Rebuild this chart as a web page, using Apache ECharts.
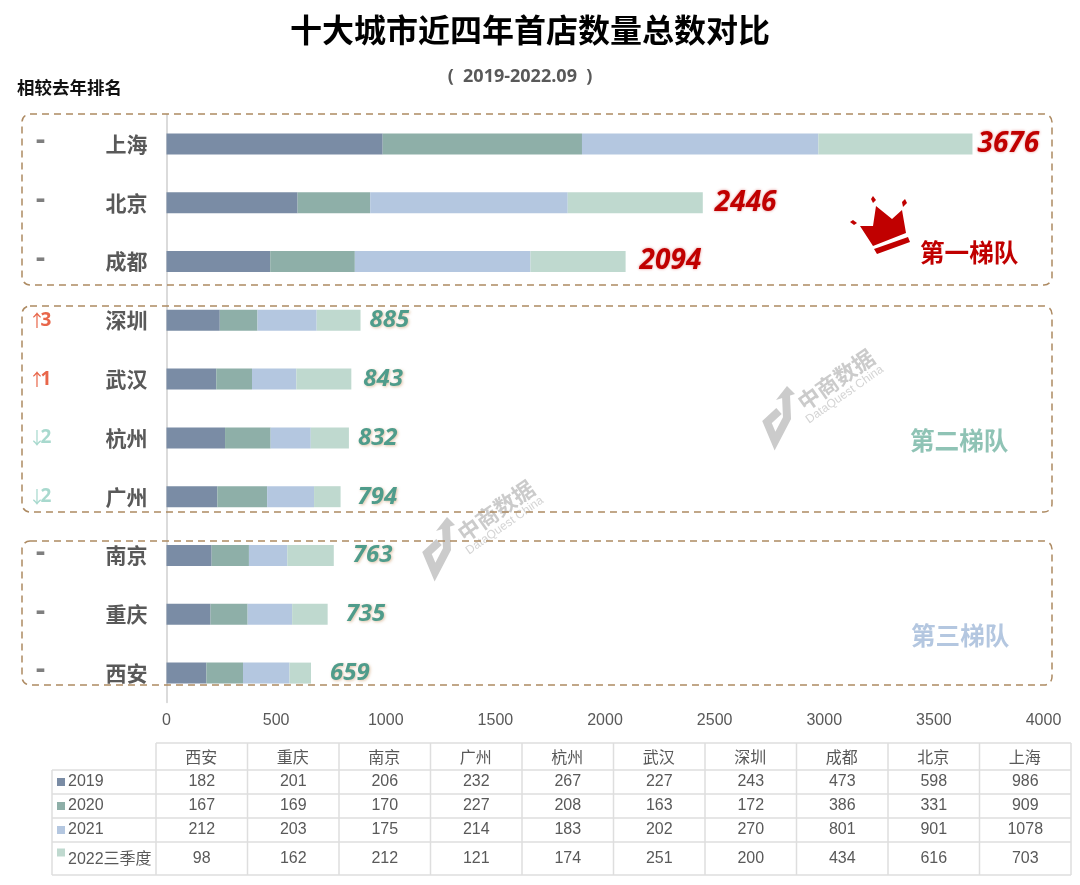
<!DOCTYPE html>
<html>
<head>
<meta charset="utf-8">
<title>十大城市近四年首店数量总数对比</title>
<style>
  html, body { margin: 0; padding: 0; background: #fff; }
  #chart { width: 1080px; height: 885px; }
</style>
<script src="https://cdn.jsdelivr.net/npm/echarts@6/dist/echarts.min.js"></script>
</head>
<body>
<div id="chart"></div>
<script>
// bottom-up order, same as the table under the chart
var cities = ['西安', '重庆', '南京', '广州', '杭州', '武汉', '深圳', '成都', '北京', '上海'];
var seriesNames = ['2019', '2020', '2021', '2022三季度'];
var v2019 = [182, 201, 206, 232, 267, 227, 243, 473, 598, 986];
var v2020 = [167, 169, 170, 227, 208, 163, 172, 386, 331, 909];
var v2021 = [212, 203, 175, 214, 183, 202, 270, 801, 901, 1078];
var v2022 = [98, 162, 212, 121, 174, 251, 200, 434, 616, 703];
var totals = [659, 735, 763, 794, 832, 843, 885, 2094, 2446, 3676];
var rankChange = ['-', '-', '-', '↓2', '↓2', '↑1', '↑3', '-', '-', '-'];
var xTicks = [0, 500, 1000, 1500, 2000, 2500, 3000, 3500, 4000];

var colors = ['#7A8CA5', '#8EAFA8', '#B4C7E0', '#BFD9CF'];
var labelGaps = [19, 18, 19, 17, 9, 12, 9, 14, 12, 5]; // total labels sit unevenly in the original
var rows = [v2019, v2020, v2021, v2022];
var FONT = '"Liberation Sans", "Noto Sans CJK SC", sans-serif';
var CJK = '"Noto Sans CJK SC", sans-serif';
var NUM = '"Open Sans", "Liberation Sans", sans-serif';

function rankLabel(val) {
  var r = rankChange[cities.indexOf(val)];
  var rank;
  if (r === '-') rank = '{same|-}';
  else {
    var key = r.charAt(0) === '↑' ? 'up' : 'down';
    rank = '{' + key + 'Arrow|' + r.charAt(0) + '}{' + key + '|' + r.slice(1) + '}';
  }
  return rank + '{city|' + val + '}';
}

function dashedBox(y, h) {
  return {
    type: 'rect', z: 5,
    shape: { x: 22, y: y, width: 1030, height: h, r: 8 },
    style: { fill: 'none', stroke: '#AD8A62', lineWidth: 1.5, lineDash: [7, 5] }
  };
}

function text(str, x, y, size, color, opt) {
  opt = opt || {};
  return {
    type: 'text', z: 6, x: x, y: y,
    style: {
      text: str, fontSize: size, fill: color,
      fontFamily: opt.family || CJK,
      fontWeight: opt.weight || 'normal',
      align: opt.align || 'left',
      verticalAlign: 'middle'
    }
  };
}

function poly(points, fill) {
  return { type: 'polygon', z: 6, shape: { points: points }, style: { fill: fill } };
}

// the logo stamp, placed by its lower left corner
function watermark(x, y) {
  var c = '#CBCBCB';
  var tilt = Math.PI * 35 / 180;
  return {
    type: 'group', x: x, y: y, z: 1,
    children: [
      { type: 'polyline', shape: { points: [[24, -52], [25, -29], [13, -6], [5, -25], [17, -36]] },
        style: { fill: 'none', stroke: c, lineWidth: 8 } },
      poly([[25, -61], [14, -47], [33, -53]], c),
      { type: 'text', x: 38, y: -42, rotation: tilt,
        style: { text: '中商数据', fontSize: 22, fontWeight: 'bold', fontFamily: CJK, fill: c, verticalAlign: 'middle' } },
      { type: 'text', x: 45, y: -26, rotation: tilt,
        style: { text: 'DataQuest China', fontSize: 12, fontFamily: FONT, fill: '#D4D4D4', verticalAlign: 'middle' } }
    ]
  };
}

function tableGraphics() {
  var out = [];
  var left = 52, x0 = 156, colW = 91.5;
  var ys = [743, 770, 794, 818, 842, 875];
  var right = x0 + colW * cities.length;
  var line = '#DEDEDE';
  function seg(x1, y1, x2, y2) {
    out.push({ type: 'line', z: 4, shape: { x1: x1, y1: y1, x2: x2, y2: y2 }, style: { stroke: line, lineWidth: 1.5 } });
  }
  seg(x0, ys[0], right, ys[0]);
  for (var r = 1; r < ys.length; r++) seg(left, ys[r], right, ys[r]);
  seg(left, ys[1], left, ys[5]);
  for (var c = 0; c <= cities.length; c++) seg(x0 + colW * c, ys[0], x0 + colW * c, ys[5]);

  cities.forEach(function (name, i) {
    var cx = x0 + colW * (i + 0.5);
    out.push(text(name, cx - 0.5, 757, 16, '#595959', { align: 'center' }));
    rows.forEach(function (row, j) {
      out.push(text(String(row[i]), cx, (ys[j + 1] + ys[j + 2]) / 2, 16, '#595959', { align: 'center', family: FONT }));
    });
  });
  seriesNames.forEach(function (name, j) {
    var cy = (ys[j + 1] + ys[j + 2]) / 2;
    var boxY = j === 3 ? cy - 10 : cy - 4;
    out.push({ type: 'rect', z: 5, shape: { x: 57, y: boxY, width: 8, height: 8 }, style: { fill: colors[j] } });
    out.push(text(name, 68, cy + (j === 3 ? 1 : 0), 16, '#595959', { family: FONT }));
  });
  return out;
}

var crown = {
  type: 'group', z: 6,
  children: [
    poly([[860, 226], [873, 246], [906, 233], [902, 210], [892, 219], [876, 206], [873, 226]], '#C00000'),
    poly([[874, 249], [908, 237], [910, 242], [877, 254]], '#C00000'),
    poly([[873, 196], [876, 200], [873, 203], [871, 199]], '#C00000'),
    poly([[905, 199], [907, 203], [903, 207], [902, 202]], '#C00000'),
    poly([[853, 220], [857, 223], [854, 225], [850, 222]], '#C00000')
  ]
};

var graphic = [
  watermark(762, 447),
  watermark(422, 578),
  dashedBox(114, 171),
  dashedBox(306, 206),
  dashedBox(541, 144),
  text('十大城市近四年首店数量总数对比', 530, 30, 32, '#000', { align: 'center', weight: 'bold' }),
  text('(  2019-2022.09  )', 520, 77, 18, '#595959', { align: 'center', weight: 'bold', family: NUM }),
  text('相较去年排名', 17, 87, 17.5, '#111', { weight: 'bold' }),
  text('第一梯队', 920, 253, 24.6, '#C00000', { weight: 'bold' }),
  text('第二梯队', 910, 441, 24.6, '#8FC3B5', { weight: 'bold' }),
  text('第三梯队', 911, 636, 24.6, '#B4C7E0', { weight: 'bold' }),
  crown
].concat(tableGraphics());

var series = rows.map(function (row, j) {
  var isLast = j === rows.length - 1;
  return {
    name: seriesNames[j],
    type: 'bar',
    stack: 'total',
    barWidth: 21,
    z: 3,
    itemStyle: { color: colors[j] },
    animation: false,
    data: row.map(function (v, i) {
      return isLast ? { value: v, label: { distance: labelGaps[i] } } : v;
    }),
    label: {
      show: isLast,
      position: 'right',
      formatter: function (p) {
        var i = p.dataIndex;
        return '{' + (i >= 7 ? 'big' : 'small') + '|' + totals[i] + '}';
      },
      rich: {
        big: {
          fontSize: 28, fontWeight: 'bold', fontStyle: 'italic', fontFamily: NUM, color: '#C00000',
          textShadowColor: 'rgba(192,0,0,0.45)', textShadowBlur: 3
        },
        small: {
          fontSize: 24, fontWeight: 'bold', fontStyle: 'italic', fontFamily: NUM, color: '#4F9C8B',
          textShadowColor: 'rgba(210,170,130,0.7)', textShadowBlur: 3, textShadowOffsetX: 1, textShadowOffsetY: 1
        }
      }
    }
  };
});

var chart = echarts.init(document.getElementById('chart'));
chart.setOption({
  animation: false,
  backgroundColor: '#fff',
  grid: { left: 166.5, right: 36.5, top: 114.5, bottom: 182.5 },
  xAxis: {
    type: 'value',
    min: xTicks[0],
    max: xTicks[xTicks.length - 1],
    interval: xTicks[1] - xTicks[0],
    axisLine: { show: false },
    axisTick: { show: false },
    splitLine: { show: false },
    axisLabel: {
      color: '#595959', fontSize: 16, fontFamily: FONT, margin: 10,
      formatter: function (v) { return String(v); }
    }
  },
  yAxis: {
    type: 'category',
    data: cities,
    axisLine: { show: true, lineStyle: { color: '#CFCFCF', width: 1.5 } },
    axisTick: { show: false },
    axisLabel: {
      margin: 19,
      formatter: rankLabel,
      rich: {
        same: { width: 70, align: 'left', fontSize: 30, fontWeight: 'bold', color: '#7F7F7F', fontFamily: FONT, padding: [0, 0, 6, 0] },
        upArrow: { width: 12, align: 'left', fontSize: 17, color: '#E8664A', fontFamily: CJK },
        up: { width: 65, align: 'left', fontSize: 19, fontWeight: 'bold', color: '#E8664A', fontFamily: NUM },
        downArrow: { width: 12, align: 'left', fontSize: 17, color: '#A8D9CE', fontFamily: CJK },
        down: { width: 65, align: 'left', fontSize: 19, fontWeight: 'bold', color: '#A8D9CE', fontFamily: NUM },
        city: { width: 42, align: 'right', fontSize: 21, fontWeight: 'bold', color: '#595959', fontFamily: CJK }
      }
    }
  },
  graphic: graphic,
  series: series
});
</script>
</body>
</html>
